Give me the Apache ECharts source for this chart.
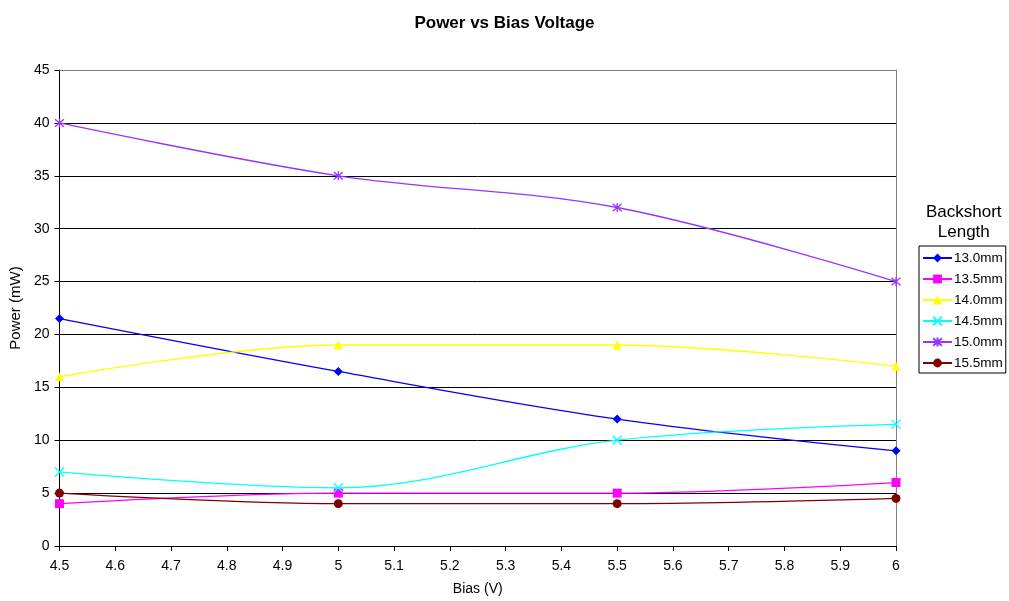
<!DOCTYPE html>
<html>
<head>
<meta charset="utf-8">
<script src="https://cdn.jsdelivr.net/npm/echarts@6/dist/echarts.min.js"></script>
<style>
  html, body { margin: 0; padding: 0; background: #fff; }
  #chart { width: 1009px; height: 601px; }
</style>
</head>
<body>
<div id="chart"></div>
<script>
// Bias voltage (V) at which power was measured
const bias = [4.5, 5, 5.5, 6];

// Measured power (mW) for each backshort length
const p13_0 = [21.5, 16.5, 12, 9];
const p13_5 = [4, 5, 5, 6];
const p14_0 = [16, 19, 19, 17];
const p14_5 = [7, 5.5, 10, 11.5];
const p15_0 = [40, 35, 32, 25];
const p15_5 = [5, 4, 4, 4.5];

const seriesNames = ['13.0mm', '13.5mm', '14.0mm', '14.5mm', '15.0mm', '15.5mm'];
const seriesValues = [p13_0, p13_5, p14_0, p14_5, p15_0, p15_5];
const colors = ['#0000FF', '#FF00FF', '#FFFF00', '#00FFFF', '#9933FF', '#800000'];

const crossPath = 'path://M0,0L10,10M10,0L0,10';
const starPath = 'path://M0,0L10,10M10,0L0,10M5,-1L5,11';
const symbols = ['diamond', 'rect', 'triangle', crossPath, starPath, 'circle'];
const symbolSizes = [9, 9, 9, 9, 9, 9];
const stroked = [false, false, false, true, true, false];

const FONT = '"Liberation Sans", Arial, sans-serif';

const series = seriesNames.map((name, i) => ({
  name: name,
  type: 'line',
  smooth: 0.35,
  data: bias.map((b, j) => [b, seriesValues[i][j]]),
  symbol: symbols[i],
  symbolSize: symbolSizes[i],
  showAllSymbol: true,
  lineStyle: { color: colors[i], width: 1.3 },
  itemStyle: stroked[i]
    ? { color: 'rgba(0,0,0,0)', borderColor: colors[i], borderWidth: 1.3 }
    : { color: colors[i], borderWidth: 0 },
  emphasis: { disabled: true },
  xAxisIndex: 0,
  yAxisIndex: 0,
  z: 3
}));

const chart = echarts.init(document.getElementById('chart'), null, { renderer: 'canvas' });
chart.setOption({
  animation: false,
  backgroundColor: '#fff',
  title: {
    text: 'Power vs Bias Voltage',
    left: 'center',
    top: 10,
    textStyle: { fontFamily: FONT, fontSize: 17, fontWeight: 'bold', color: '#000' }
  },
  grid: { left: 57, right: 113, top: 70, bottom: 52, containLabel: false },
  legend: {
    orient: 'vertical',
    left: 919,
    top: 246,
    padding: [5, 3, 3, 3],
    itemGap: 7,
    itemWidth: 29,
    itemHeight: 11,
    borderColor: '#000',
    borderWidth: 1,
    data: seriesNames,
    textStyle: { fontFamily: FONT, fontSize: 13.5, color: '#000', padding: [0, 0, 0, -3] }
  },
  graphic: [{
    type: 'text',
    left: 926,
    top: 202,
    style: {
      text: 'Backshort\nLength',
      textAlign: 'center',
      fontFamily: FONT,
      fontSize: 17,
      lineHeight: 20,
      fill: '#000'
    }
  }],
  xAxis: [{
    type: 'value',
    min: 4.5,
    max: 6,
    interval: 0.1,
    name: 'Bias (V)',
    nameLocation: 'middle',
    nameGap: 36,
    nameTextStyle: { fontFamily: FONT, fontSize: 14, color: '#000' },
    axisLine: { show: true, lineStyle: { color: '#000', width: 1 } },
    axisTick: { show: true, inside: false, length: 5, lineStyle: { color: '#000' } },
    axisLabel: {
      fontFamily: FONT, fontSize: 14, color: '#000', margin: 13,
      formatter: v => String(Math.round(v * 10) / 10)
    },
    splitLine: { show: false }
  }, {
    type: 'value',
    position: 'top',
    min: 4.5,
    max: 6,
    axisLine: { show: true, onZero: false, lineStyle: { color: '#808080', width: 1 } },
    axisTick: { show: false },
    axisLabel: { show: false },
    splitLine: { show: false }
  }],
  yAxis: [{
    type: 'value',
    min: 0,
    max: 45,
    interval: 5,
    name: 'Power (mW)',
    nameLocation: 'middle',
    nameGap: 32,
    nameRotate: 90,
    nameTextStyle: { fontFamily: FONT, fontSize: 15, color: '#000' },
    axisLine: { show: true, lineStyle: { color: '#000', width: 1 } },
    axisTick: { show: true, inside: false, length: 5, lineStyle: { color: '#000' } },
    axisLabel: { fontFamily: FONT, fontSize: 14, color: '#000', margin: 10 },
    splitLine: { show: true, lineStyle: { color: '#000', width: 1 } }
  }, {
    type: 'value',
    position: 'right',
    min: 0,
    max: 45,
    axisLine: { show: true, onZero: false, lineStyle: { color: '#808080', width: 1 } },
    axisTick: { show: false },
    axisLabel: { show: false },
    splitLine: { show: false }
  }],
  series: series
});
</script>
</body>
</html>
